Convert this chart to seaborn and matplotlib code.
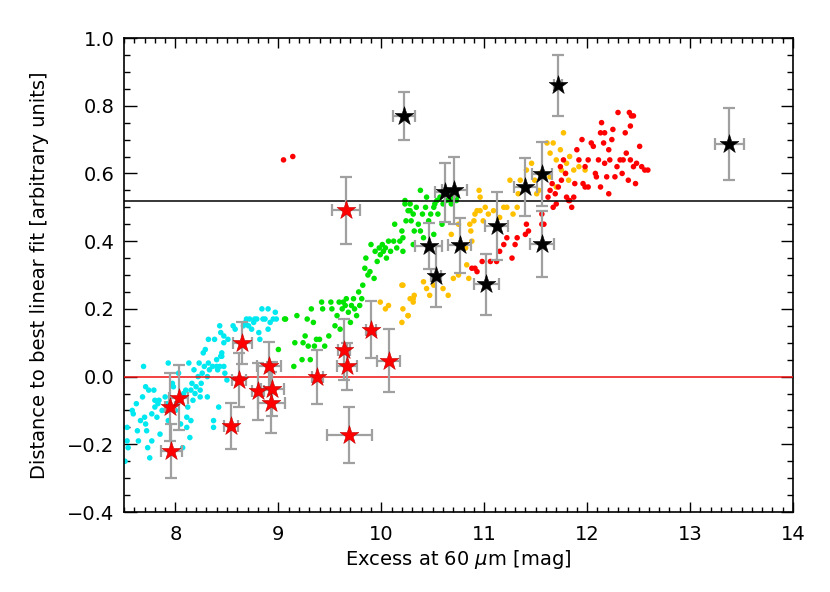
import numpy as np
import pandas as pd
import matplotlib
matplotlib.use("Agg")
import matplotlib.pyplot as plt
from matplotlib.ticker import MultipleLocator, FuncFormatter
import seaborn as sns

# --- dot clouds ---
cyan_x = [7.51, 7.53, 7.53, 7.54, 7.58, 7.59, 7.62, 7.63, 7.64, 7.66, 7.68, 7.69, 7.70, 7.71, 7.71,
          7.72, 7.73, 7.74, 7.75, 7.77, 7.77, 7.79, 7.80, 7.80, 7.82, 7.83, 7.84, 7.85, 7.87, 7.90,
          7.92, 7.93, 7.93, 7.97, 7.98, 8.00, 8.02, 8.03, 8.05, 8.07, 8.08, 8.10, 8.11, 8.12, 8.13,
          8.14, 8.15, 8.16, 8.17, 8.18, 8.19, 8.20, 8.22, 8.23, 8.24, 8.25, 8.26, 8.27, 8.28, 8.29,
          8.31, 8.32, 8.33, 8.36, 8.37, 8.37, 8.40, 8.42, 8.44, 8.45, 8.47, 8.31, 8.24, 8.15, 8.11,
          8.32, 8.38, 8.41, 8.43, 8.44, 8.45, 8.47, 8.47, 8.50, 8.51, 8.56, 8.58, 8.66, 8.68, 8.69,
          8.71, 8.72, 8.74, 8.76, 8.77, 8.79, 8.81, 8.82, 8.84, 8.85, 8.87, 8.90, 8.90, 8.92, 8.97,
          8.95, 8.98, 8.43, 8.40, 8.48]
cyan_y = [-0.25, -0.15, -0.19, -0.21, -0.10, -0.11, -0.08, -0.16, -0.19, -0.13, -0.06, 0.03, -0.12, -0.14, -0.03,
          -0.16, -0.21, -0.04, -0.24, -0.19, -0.11, -0.04, -0.07, -0.09, -0.12, -0.08, -0.07, -0.17, -0.10, -0.06,
          -0.08, 0.04, -0.13, -0.02, -0.03, -0.10, -0.08, 0.01, -0.14, -0.21, -0.05, -0.04, -0.12, -0.09, 0.04,
          -0.18, -0.13, -0.02, -0.07, 0.02, -0.05, -0.03, -0.00, 0.04, -0.06, -0.02, 0.01, 0.07, 0.03, 0.08,
          -0.00, 0.04, 0.02, 0.03, -0.13, -0.15, 0.03, -0.09, 0.06, 0.07, 0.10, -0.06, -0.04, -0.04, -0.15,
          0.11, 0.11, 0.02, 0.03, 0.13, 0.06, 0.12, 0.03, -0.01, 0.11, 0.15, 0.14, 0.15, 0.16, 0.17,
          0.15, 0.17, 0.14, 0.16, 0.17, 0.17, 0.13, 0.11, 0.20, 0.17, 0.17, 0.20, 0.14, 0.16, 0.19,
          0.17, 0.17, 0.15, 0.05, 0.01]

green_x = [9.00, 9.06, 9.07, 9.15, 9.16, 9.18, 9.23, 9.24, 9.26, 9.28, 9.29, 9.31, 9.32, 9.34, 9.35, 9.37,
           9.40, 9.42, 9.43, 9.45, 9.49, 9.51, 9.52, 9.55, 9.57, 9.59, 9.60, 9.62, 9.63, 9.65, 9.66,
           9.68, 9.70, 9.71, 9.73, 9.74, 9.76, 9.78, 9.79, 9.81, 9.82, 9.84, 9.85, 9.87, 9.89, 9.90,
           9.93, 9.94, 9.96, 9.98, 9.99, 10.01, 10.02, 10.04, 10.05, 10.07, 10.09, 10.12, 10.13, 10.15, 10.18,
           10.20, 10.21, 10.23, 10.24, 10.26, 10.28, 10.29, 10.31, 10.32, 10.34, 10.36, 10.38, 10.40, 10.41, 10.43,
           10.44, 10.46, 10.48, 10.51, 10.52, 10.54, 10.55, 10.57, 10.60, 10.63, 10.67, 10.68, 10.71, 10.73, 10.70,
           10.21, 10.31, 10.38, 10.51, 10.59, 10.67, 10.73, 10.23, 10.28]
green_y = [0.08, 0.17, 0.17, 0.03, 0.10, 0.18, 0.05, 0.10, 0.12, 0.17, 0.09, 0.05, 0.20, 0.16, 0.09, 0.11,
           0.11, 0.22, 0.20, 0.09, 0.12, 0.22, 0.20, 0.15, 0.18, 0.22, 0.14, 0.20, 0.22, 0.21, 0.23,
           0.19, 0.16, 0.21, 0.23, 0.20, 0.18, 0.25, 0.21, 0.23, 0.27, 0.32, 0.35, 0.30, 0.31, 0.39,
           0.29, 0.37, 0.34, 0.38, 0.36, 0.39, 0.37, 0.38, 0.35, 0.40, 0.37, 0.40, 0.45, 0.38, 0.40,
           0.43, 0.41, 0.52, 0.46, 0.49, 0.51, 0.46, 0.48, 0.43, 0.50, 0.45, 0.55, 0.48, 0.41, 0.50,
           0.53, 0.46, 0.48, 0.50, 0.51, 0.52, 0.48, 0.53, 0.51, 0.52, 0.53, 0.51, 0.52, 0.52, 0.55,
           0.37, 0.39, 0.43, 0.42, 0.45, 0.52, 0.53, 0.51, 0.49]

orange_x = [9.99, 10.04, 10.07, 10.20, 10.20, 10.26, 10.28, 10.31, 10.32,
            10.21, 10.21, 10.26, 10.31, 10.41, 10.44, 10.47, 10.51, 10.60, 10.65, 10.70, 10.75, 10.68,
            10.75, 10.83, 10.85, 10.86, 10.88, 10.91, 10.93, 10.96, 10.99, 11.01, 11.04, 11.09, 11.15,
            11.19, 11.22, 11.25, 11.28, 11.32, 11.33, 11.35, 11.41, 11.46, 11.49, 11.51, 11.53, 11.54,
            11.61, 11.64, 11.67, 11.70, 11.74, 11.75, 11.77, 11.79, 11.80, 11.82, 11.83, 11.87, 11.92,
            11.98, 11.70, 11.64, 10.82, 10.87, 10.90, 10.96, 10.95]
orange_y = [0.22, 0.20, 0.21, 0.16, 0.27, 0.18, 0.23, 0.22, 0.24,
            0.27, 0.20, 0.18, 0.23, 0.28, 0.26, 0.24, 0.27, 0.26, 0.24, 0.29, 0.30, 0.42,
            0.45, 0.33, 0.29, 0.45, 0.40, 0.48, 0.49, 0.53, 0.46, 0.50, 0.48, 0.49, 0.47,
            0.50, 0.50, 0.58, 0.48, 0.50, 0.54, 0.58, 0.61, 0.63, 0.58, 0.54, 0.55, 0.60,
            0.69, 0.66, 0.69, 0.64, 0.67, 0.61, 0.72, 0.60, 0.63, 0.58, 0.65, 0.61, 0.62,
            0.61, 0.56, 0.59, 0.38, 0.43, 0.46, 0.49, 0.55]

red_x = [9.05, 9.14,
         10.88, 10.91, 10.93, 10.98, 11.06, 11.12, 11.15, 11.19, 11.22, 11.27, 11.30, 11.32, 11.40,
         11.41, 11.43, 11.56, 11.56, 11.58, 11.62, 11.64, 11.66, 11.67, 11.69, 11.70, 11.72, 11.74,
         11.75, 11.77, 11.79, 11.80, 11.82, 11.83, 11.85, 11.87, 11.88, 11.90, 11.92, 11.95, 11.96,
         11.98, 12.01, 12.04, 12.06, 12.08, 12.09, 12.11, 12.13, 12.13, 12.14, 12.16, 12.17, 12.17,
         12.19, 12.21, 12.21, 12.22, 12.24, 12.25, 12.27, 12.29, 12.30, 12.32, 12.34, 12.35, 12.37,
         12.38, 12.40, 12.42, 12.41, 12.43, 12.45, 12.47, 12.48, 12.51, 12.53, 12.56, 12.59, 12.01,
         11.98, 12.45, 12.42]
red_y = [0.64, 0.65,
         0.32, 0.32, 0.31, 0.34, 0.34, 0.34, 0.37, 0.39, 0.41, 0.35, 0.39, 0.41, 0.42,
         0.45, 0.43, 0.48, 0.45, 0.45, 0.53, 0.55, 0.57, 0.50, 0.54, 0.51, 0.56, 0.62,
         0.58, 0.64, 0.60, 0.53, 0.52, 0.52, 0.50, 0.53, 0.57, 0.67, 0.64, 0.70, 0.57,
         0.56, 0.64, 0.69, 0.68, 0.60, 0.59, 0.64, 0.72, 0.56, 0.75, 0.69, 0.72, 0.63,
         0.59, 0.67, 0.54, 0.64, 0.70, 0.73, 0.59, 0.62, 0.78, 0.64, 0.60, 0.64, 0.72,
         0.66, 0.58, 0.64, 0.78, 0.77, 0.62, 0.57, 0.63, 0.68, 0.62, 0.61, 0.61, 0.56,
         0.62, 0.77, 0.74]

# --- stars with error bars ---
rstar_x = [7.95, 8.03, 7.96, 8.54, 8.65, 8.62, 8.80, 8.91, 8.94, 8.93, 9.38, 9.66, 9.64, 9.67, 9.69, 9.90, 10.07]
rstar_y = [-0.089, -0.062, -0.219, -0.145, 0.10, -0.009, -0.044, 0.03, -0.036, -0.077, 0.0, 0.491, 0.08, 0.03, -0.172, 0.139, 0.047]
rstar_xerr = [0.05, 0.09, 0.10, 0.068, 0.09, 0.07, 0.06, 0.12, 0.11, 0.13, 0.05, 0.136, 0.06, 0.097, 0.22, 0.05, 0.11]
rstar_yerr = [0.10, 0.097, 0.08, 0.068, 0.062, 0.08, 0.083, 0.071, 0.08, 0.09, 0.08, 0.099, 0.09, 0.07, 0.083, 0.085, 0.093]

kstar_x = [10.22, 11.72, 10.62, 10.71, 10.46, 10.53, 10.76, 11.02, 11.12, 11.40, 11.56, 11.56, 13.38]
kstar_y = [0.769, 0.861, 0.544, 0.55, 0.385, 0.296, 0.388, 0.272, 0.444, 0.559, 0.598, 0.391, 0.686]
kstar_xerr = [0.11, 0.04, 0.10, 0.12, 0.13, 0.05, 0.115, 0.12, 0.11, 0.11, 0.10, 0.12, 0.14]
kstar_yerr = [0.071, 0.09, 0.087, 0.098, 0.068, 0.089, 0.081, 0.089, 0.10, 0.086, 0.095, 0.098, 0.106]

fit_line = 0.0
threshold = 0.52

colors = {"cyan": "#00e8f0", "green": "#00e400", "orange": "#ffc000", "red": "#ff0000"}

sns.set_style("ticks")
plt.rcParams["font.family"] = ["DejaVu Sans"]
plt.rcParams["font.size"] = 14
plt.rcParams["text.color"] = "black"
plt.rcParams["axes.labelcolor"] = "black"
plt.rcParams["xtick.color"] = "black"
plt.rcParams["ytick.color"] = "black"

dots = pd.concat([
    pd.DataFrame({"x": cyan_x, "y": cyan_y, "grp": "cyan"}),
    pd.DataFrame({"x": green_x, "y": green_y, "grp": "green"}),
    pd.DataFrame({"x": orange_x, "y": orange_y, "grp": "orange"}),
    pd.DataFrame({"x": red_x, "y": red_y, "grp": "red"}),
], ignore_index=True)

fig = plt.figure(figsize=(8.3, 5.92), dpi=100)
ax = fig.add_axes([0.1494, 0.1351, 0.806, 0.8007])

sns.scatterplot(ax=ax, data=dots, x="x", y="y", hue="grp", palette=colors,
                s=16, linewidth=0, legend=False, zorder=2)

ax.axhline(fit_line, color="#f01010", lw=1.1, zorder=3)
ax.axhline(threshold, color="black", lw=1.1, zorder=3)

ebar = dict(fmt="none", ecolor="#a0a0a0", elinewidth=1.6, capsize=4, capthick=1.6, zorder=4)
ax.errorbar(rstar_x, rstar_y, xerr=rstar_xerr, yerr=rstar_yerr, **ebar)
ax.errorbar(kstar_x, kstar_y, xerr=kstar_xerr, yerr=kstar_yerr, **ebar)

sns.scatterplot(ax=ax, x=rstar_x, y=rstar_y, marker="*", s=200, color="#ff0000",
                edgecolor="#c00000", linewidth=0.4, zorder=5)
sns.scatterplot(ax=ax, x=kstar_x, y=kstar_y, marker="*", s=200, color="black",
                edgecolor="black", linewidth=0.4, zorder=5)

ax.set_xlim(7.5, 14)
ax.set_ylim(-0.4, 1.0)
ax.xaxis.set_major_locator(MultipleLocator(1))
ax.xaxis.set_minor_locator(MultipleLocator(0.1))
ax.yaxis.set_major_locator(MultipleLocator(0.2))
ax.yaxis.set_minor_locator(MultipleLocator(0.05))
ax.yaxis.set_major_formatter(FuncFormatter(lambda v, pos: f"{v:.1f}".replace("-", "\u2212")))

ax.tick_params(axis="x", which="major", direction="in", length=7, width=1, top=True, pad=9)
ax.tick_params(axis="x", which="minor", direction="in", length=3.5, width=1, top=True)
ax.tick_params(axis="y", which="major", direction="in", length=9, width=1, right=True, pad=7)
ax.tick_params(axis="y", which="minor", direction="in", length=4.5, width=1, right=True)
for s in ax.spines.values():
    s.set_linewidth(1.2)
    s.set_color("black")

ax.set_xlabel(r"Excess at 60 $\mu$m [mag]", labelpad=3)
ax.set_ylabel("Distance to best linear fit [arbitrary units]", labelpad=13)

fig.savefig("out.png", dpi=100)
plt.close(fig)
